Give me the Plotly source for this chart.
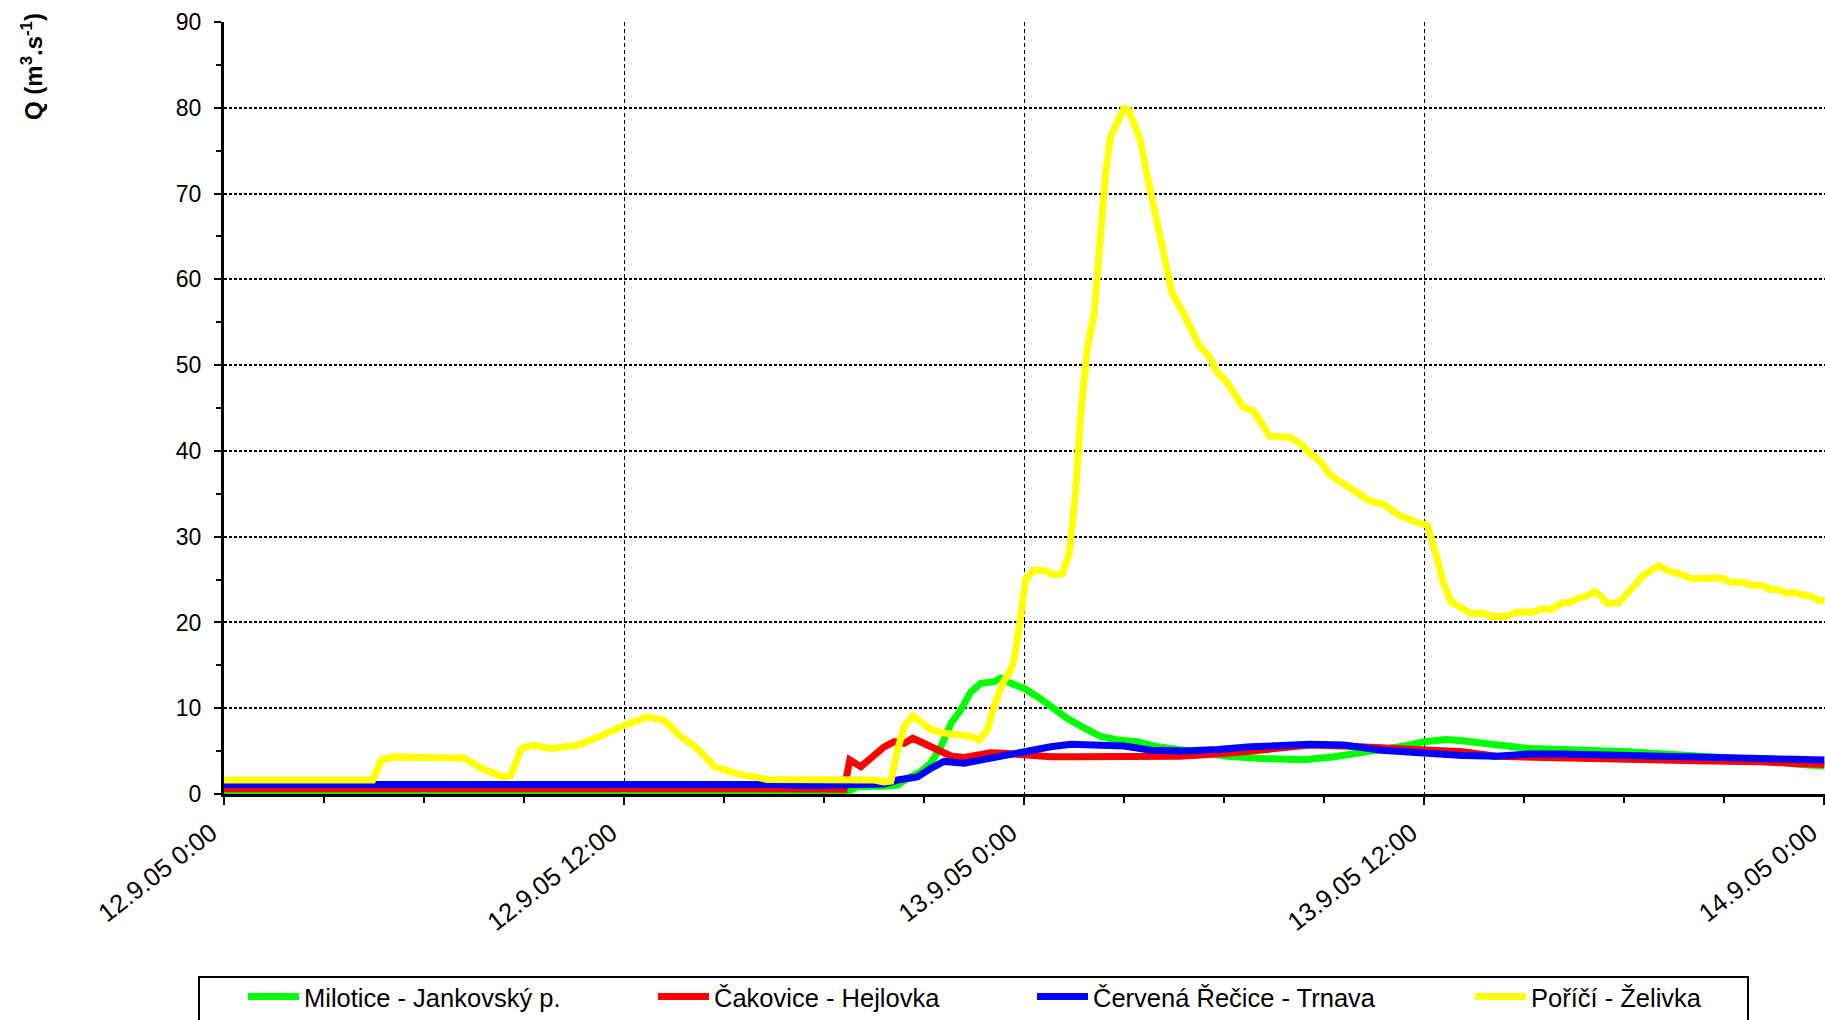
import pandas as pd
import plotly.graph_objects as go

# ---- data (hours after 12.9.05 0:00, discharge in m3/s) ----
START = "2005-09-12 00:00"

series_names = ["Milotice - Jankovský p.", "Čakovice - Hejlovka",
                "Červená Řečice - Trnava", "Poříčí - Želivka"]
series_colors = ["#00FF00", "#FF0000", "#0000FF", "#FFFF00"]

milotice_h = [0, 18.6, 18.8, 19.0, 19.8, 20.2, 20.5, 20.9, 21.2, 21.5, 21.8, 22.1, 22.4, 22.7,
              23.1, 23.3, 23.6, 24.0, 24.4, 24.8, 25.3, 25.8, 26.3, 26.8, 27.4, 28.0, 29.0, 30.1,
              31.15, 32.4, 33.3, 34.3, 35.4, 36.0, 36.65, 37.15, 37.65, 38.15, 39.15, 40.14,
              41.14, 42.1, 43.1, 44.1, 45.1, 46.1, 47.1, 48]
milotice_q = [0.15, 0.15, 0.47, 0.86, 0.9, 1.05, 1.83, 2.6, 3.6, 5.5, 8.2, 9.8, 11.9, 12.9,
              13.1, 13.5, 12.9, 12.3, 11.35, 10.2, 8.8, 7.7, 6.7, 6.3, 6.1, 5.5, 4.9, 4.4,
              4.15, 4.0, 4.35, 4.9, 5.6, 6.1, 6.36, 6.2, 6.0, 5.6, 5.3, 5.2,
              5.12, 4.93, 4.7, 4.5, 4.27, 3.96, 3.5, 3.25]

cakovice_h = [0, 4, 8, 12, 16, 18.6, 18.77, 19.1, 19.47, 19.8, 20.1, 20.4, 20.66, 21.0, 21.4,
              21.8, 22.2, 22.6, 23.0, 23.4, 24.0, 24.8, 25.5, 27.3, 28.68, 30.1, 31.5, 32.56,
              33.6, 34.8, 36.0, 37.15, 38.15, 39.15, 40.14, 41.14, 42.1, 43.1, 44.1, 45.1,
              46.1, 47.1, 48]
cakovice_q = [0.6, 0.65, 0.7, 0.65, 0.6, 0.55, 3.97, 3.19, 4.55, 5.5, 6.1, 5.9, 6.5, 5.9, 5.13,
              4.43, 4.27, 4.55, 4.8, 4.74, 4.55, 4.35, 4.35, 4.4, 4.4, 4.74, 5.3, 5.7,
              5.6, 5.4, 5.2, 4.93, 4.4, 4.27, 4.15, 4.04, 4.04, 3.96, 3.88, 3.88,
              3.77, 3.57, 3.45]

recice_h = [0, 4.4, 4.8, 10, 15, 16.5, 17.5, 19.0, 19.8, 20.2, 20.8, 21.2, 21.6, 22.2, 22.8,
            23.4, 24.0, 24.8, 25.4, 26.3, 27.0, 27.8, 28.8, 29.8, 30.8, 32.56, 33.6, 34.7,
            35.7, 37.15, 38.15, 39.15, 40.14, 41.14, 42.1, 43.1, 44.1, 45.1, 46.1, 47.1, 48]
recice_q = [1.1, 1.1, 1.3, 1.3, 1.25, 1.1, 1.0, 1.05, 1.17, 1.63, 2.0, 3.0, 3.8, 3.6, 4.05,
            4.6, 4.9, 5.5, 5.8, 5.8, 5.6, 5.1, 5.0, 5.2, 5.5, 5.8, 5.7, 5.1,
            4.8, 4.5, 4.4, 4.66, 4.66, 4.6, 4.5, 4.4, 4.35, 4.27, 4.15, 4.04, 3.95]

porici_h = [0, 4.46, 4.72, 5.04, 7.2, 7.72, 8.4, 8.6, 8.92, 9.27, 9.78, 10.63, 11.3, 12.0, 12.7,
            13.2, 13.7, 14.2, 14.7, 15.4, 16.3, 17.3, 19.5, 19.8, 20.0, 20.2, 20.4, 20.66, 20.9,
            21.2, 21.6, 22.0, 22.4, 22.65, 22.9, 23.1, 23.35, 23.55, 23.7, 23.85, 24.05, 24.3,
            24.65, 24.9, 25.15, 25.35, 25.54, 25.7, 25.9, 26.1, 26.24, 26.44, 26.59, 26.74,
            26.99, 27.14, 27.29, 27.49, 27.68, 28.08, 28.43, 28.78, 29.28, 29.53, 29.78, 30.08,
            30.28, 30.57, 30.87, 31.37, 31.97, 32.27, 32.52, 32.92, 33.17, 33.56, 33.96, 34.36,
            34.76, 35.3, 35.76, 36.1, 36.35, 36.55, 36.8, 37.15, 37.4, 37.75, 38.05, 38.45,
            38.75, 39.25, 39.55, 39.8, 40.14, 40.34, 40.6, 40.89, 41.12, 41.29, 41.49, 41.84,
            42.09, 42.33, 42.58, 43.03, 43.33, 43.63, 44.03, 44.93, 45.18, 45.57, 45.82, 46.12,
            46.37, 46.57, 46.87, 47.12, 47.32, 47.52, 47.82, 48]
porici_q = [1.63, 1.63, 3.96, 4.3, 4.2, 3.0, 1.94, 2.2, 5.3, 5.7, 5.3, 5.7, 6.76, 8.0, 9.0,
            8.6, 6.7, 5.3, 3.2, 2.35, 1.7, 1.63, 1.63, 1.4, 1.5, 5.1, 7.85, 9.1, 8.4,
            7.5, 7.1, 6.8, 6.7, 6.3, 7.5, 10.2, 12.9, 14.1, 15.6, 19.5, 25.1, 26.1,
            26.0, 25.5, 25.7, 28.0, 35.0, 44.4, 52.1, 56.0, 63.8, 72.3, 76.6, 77.8,
            79.9, 79.7, 78.1, 76.2, 72.3, 65.3, 58.5, 56.0, 52.1, 51.15, 49.2, 48.0,
            46.9, 45.1, 44.7, 41.7, 41.6, 40.9, 39.9, 38.6, 37.2, 36.2, 35.1, 34.2,
            33.8, 32.4, 31.7, 31.3, 28.0, 24.9, 22.4, 21.6, 21.05, 21.1, 20.7, 20.7,
            21.2, 21.2, 21.6, 21.5, 22.3, 22.3, 22.8, 23.1, 23.6, 23.1, 22.2, 22.3,
            23.4, 24.2, 25.5, 26.6, 26.0, 25.7, 25.1, 25.2, 24.7, 24.7, 24.35, 24.35,
            23.85, 23.9, 23.4, 23.5, 23.2, 23.15, 22.6, 22.5]

tick_hours = [0, 12, 24, 36, 48]
tick_labels = ["12.9.05 0:00", "12.9.05 12:00", "13.9.05 0:00", "13.9.05 12:00", "14.9.05 0:00"]
y_ticks = [0, 10, 20, 30, 40, 50, 60, 70, 80, 90]

# ---- build ----
t0 = pd.Timestamp(START)
def to_time(hours):
    return [t0 + pd.Timedelta(hours=h) for h in hours]

all_h = [milotice_h, cakovice_h, recice_h, porici_h]
all_q = [milotice_q, cakovice_q, recice_q, porici_q]

FONT = "Arial, Liberation Sans, sans-serif"
W, H = 1825, 1020
ML, MR, MT, MB = 224, 0, 22, 226
PW = W - ML - MR
PH = H - MT - MB

fig = go.Figure()
legend_ids = ["legend", "legend2", "legend3", "legend4"]
for name, color, hh, qq, lg in zip(series_names, series_colors, all_h, all_q, legend_ids):
    fig.add_trace(go.Scatter(x=to_time(hh), y=qq, mode="lines", name=name,
                             line=dict(color=color, width=7), legend=lg))

def px_x(p):
    return (p - ML) / PW

def px_y(p):
    return (H - MB - p) / PH

# legend positions (left edge of each legend, px)
legend_left_px = [243, 653, 1032, 1470]
legend_layout = {}
for lg, lx in zip(legend_ids, legend_left_px):
    legend_layout[lg] = dict(x=px_x(lx), y=px_y(997), xanchor="left", yanchor="middle",
                             bgcolor="rgba(0,0,0,0)", borderwidth=0, itemwidth=51,
                             font=dict(family=FONT, size=25.5, color="black"),
                             orientation="h", tracegroupgap=0)

fig.update_layout(
    width=W, height=H, autosize=False,
    margin=dict(l=ML, r=MR, t=MT, b=MB, pad=0, autoexpand=False),
    paper_bgcolor="white", plot_bgcolor="white",
    font=dict(family=FONT, size=23, color="black"),
    showlegend=True,
    **legend_layout,
    xaxis=dict(
        type="date",
        range=[to_time([0])[0], to_time([48.02])[0]],
        tickvals=to_time(tick_hours), ticktext=tick_labels,
        tickangle=-38, tickfont=dict(family=FONT, size=25.5, color="black"),
        ticklabeloverflow="allow", ticklabelshift=-13, ticklabelstandoff=3,
        showgrid=True, gridcolor="black", gridwidth=1, griddash="4px,3px",
        showline=True, linecolor="black", linewidth=3,
        ticks="outside", ticklen=8, tickwidth=2, tickcolor="black",
        minor=dict(dtick=3 * 3600 * 1000, ticks="outside", ticklen=6, tickwidth=2,
                   tickcolor="black", showgrid=False),
        zeroline=False, fixedrange=True,
    ),
    yaxis=dict(
        range=[0, 90], tickvals=y_ticks,
        tickfont=dict(family=FONT, size=23, color="black"),
        showgrid=True, gridcolor="black", gridwidth=2, griddash="3px,2px",
        showline=True, linecolor="black", linewidth=3,
        ticks="outside", ticklen=7, tickwidth=2, tickcolor="black",
        ticklabelstandoff=8,
        minor=dict(dtick=5, ticks="outside", ticklen=5, tickwidth=2,
                   tickcolor="black", showgrid=False),
        zeroline=False, fixedrange=True,
    ),
    annotations=[dict(
        text="<b>Q (m<sup>3</sup>.s<sup>-1</sup>)</b>", textangle=-90,
        xref="paper", yref="paper", x=px_x(32), y=px_y(67),
        xanchor="center", yanchor="middle", showarrow=False,
        font=dict(family=FONT, size=24, color="black"),
    )],
    shapes=[dict(
        type="rect", xref="paper", yref="paper",
        x0=px_x(199), x1=px_x(1748), y0=px_y(977), y1=px_y(1040),
        line=dict(color="black", width=2), fillcolor="rgba(0,0,0,0)",
    )],
)

fig.write_html("out.html", config={"displayModeBar": False},
               post_script="document.body.style.margin='0';document.body.style.overflow='hidden';")
